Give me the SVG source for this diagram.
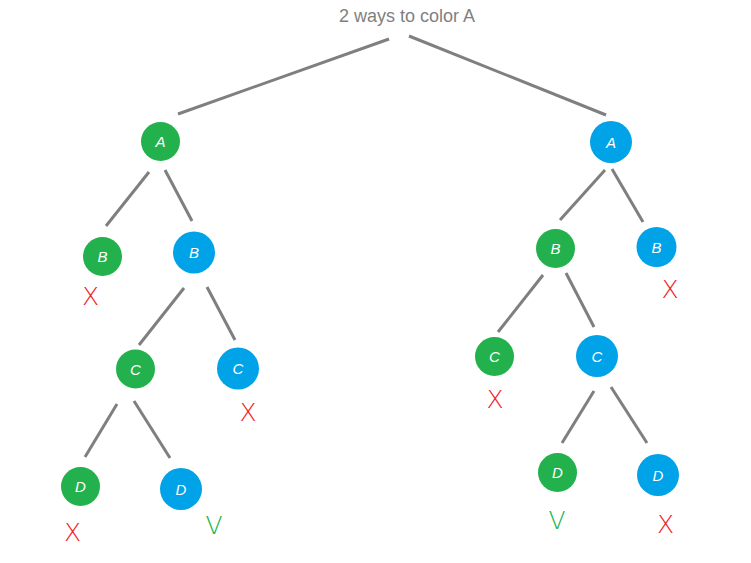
<svg xmlns="http://www.w3.org/2000/svg" width="751" height="563" viewBox="0 0 751 563">
<style>
.edge{stroke:#7f7f7f;stroke-width:3;stroke-linecap:butt;fill:none}
.g{fill:#22b14c}
.b{fill:#00a2e8}
.lbl{fill:#ffffff;font-family:"Liberation Sans",Arial,sans-serif;font-style:italic;font-size:15px;text-anchor:middle}
.x{fill:#ed1c24;font-family:"DejaVu Sans",sans-serif;font-weight:300;font-size:25px;text-anchor:middle}
.v{fill:#22b14c;font-family:"DejaVu Sans",sans-serif;font-weight:300;font-size:25px;text-anchor:middle}
.title{fill:#7f7f7f;font-family:"Liberation Sans",Arial,sans-serif;font-size:18px;text-anchor:middle}
</style>
<rect width="751" height="563" fill="#ffffff"/>
<text class="title" x="407" y="22">2 ways to color A</text>
<g id="connectors">
<line class="edge" x1="389" y1="39" x2="178" y2="114"/>
<line class="edge" x1="409" y1="36" x2="606" y2="115"/>
<line class="edge" x1="149" y1="172" x2="106" y2="226"/>
<line class="edge" x1="165" y1="170" x2="192" y2="221"/>
<line class="edge" x1="184" y1="288" x2="139" y2="345"/>
<line class="edge" x1="207" y1="287" x2="235" y2="340"/>
<line class="edge" x1="117" y1="404" x2="85" y2="457"/>
<line class="edge" x1="134" y1="401" x2="170" y2="458"/>
<line class="edge" x1="605" y1="170" x2="560" y2="220"/>
<line class="edge" x1="612" y1="169" x2="643" y2="222"/>
<line class="edge" x1="543" y1="275" x2="498" y2="332"/>
<line class="edge" x1="566" y1="273" x2="594" y2="327"/>
<line class="edge" x1="594" y1="391" x2="562" y2="443"/>
<line class="edge" x1="611" y1="387" x2="647" y2="443"/>
</g>
<g id="L-A"><circle class="g" cx="160.5" cy="141.5" r="19.5"/><text class="lbl" x="160.5" y="147">A</text></g>
<g id="L-B1"><circle class="g" cx="102.5" cy="256.5" r="19.5"/><text class="lbl" x="102.5" y="262">B</text></g>
<g id="L-B2"><circle class="b" cx="194" cy="252.5" r="21"/><text class="lbl" x="194" y="258">B</text></g>
<g id="L-C1"><circle class="g" cx="135.5" cy="369" r="19.5"/><text class="lbl" x="135.5" y="374.5">C</text></g>
<g id="L-C2"><circle class="b" cx="238" cy="368.5" r="21"/><text class="lbl" x="238" y="374">C</text></g>
<g id="L-D1"><circle class="g" cx="80.5" cy="486.5" r="19.5"/><text class="lbl" x="80.5" y="492">D</text></g>
<g id="L-D2"><circle class="b" cx="181" cy="489" r="21"/><text class="lbl" x="181" y="494.5">D</text></g>
<g id="R-A"><circle class="b" cx="611" cy="142" r="21"/><text class="lbl" x="611" y="147.5">A</text></g>
<g id="R-B1"><circle class="g" cx="555.5" cy="248.5" r="19.5"/><text class="lbl" x="555.5" y="254">B</text></g>
<g id="R-B2"><circle class="b" cx="656.5" cy="247" r="20"/><text class="lbl" x="656.5" y="252.5">B</text></g>
<g id="R-C1"><circle class="g" cx="494.5" cy="356.5" r="19.5"/><text class="lbl" x="494.5" y="362">C</text></g>
<g id="R-C2"><circle class="b" cx="597" cy="356" r="21"/><text class="lbl" x="597" y="361.5">C</text></g>
<g id="R-D1"><circle class="g" cx="557.5" cy="472.5" r="19.5"/><text class="lbl" x="557.5" y="478">D</text></g>
<g id="R-D2"><circle class="b" cx="658" cy="475" r="21"/><text class="lbl" x="658" y="480.5">D</text></g>
<g id="marks">
<text class="x" x="90.5" y="305">X</text>
<text class="x" x="248" y="421">X</text>
<text class="x" x="72.5" y="541">X</text>
<text class="v" x="214" y="534">V</text>
<text class="x" x="495" y="408">X</text>
<text class="x" x="670" y="298">X</text>
<text class="v" x="557" y="529">V</text>
<text class="x" x="665.5" y="533">X</text>
</g>
</svg>
